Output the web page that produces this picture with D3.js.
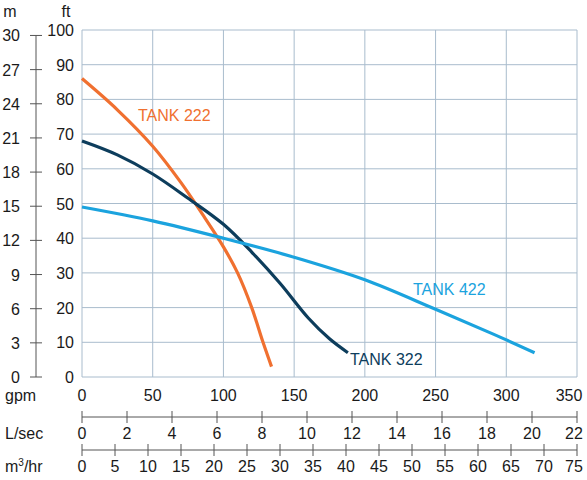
<!DOCTYPE html>
<html><head><meta charset="utf-8">
<script src="https://cdn.jsdelivr.net/npm/d3@7"></script>
<style>body{margin:0;background:#fff}text{font-family:"Liberation Sans",Arial,sans-serif;fill:#1a1a1a}</style>
</head><body><svg id="c" width="587" height="480"></svg>
<script>
const gpmTicks=[0,50,100,150,200,250,300,350];
const lsecTicks=[0,2,4,6,8,10,12,14,16,18,20,22];
const m3Ticks=[0,5,10,15,20,25,30,35,40,45,50,55,60,65,70,75];
const ftTicks=[0,10,20,30,40,50,60,70,80,90,100];
const mTicks=[0,3,6,9,12,15,18,21,24,27,30];
const tank222=[[0,86],[25,77],[50,66.5],[70,56],[85,47],[100,37.5],[110,30],[120,20],[128,10],[134,3]];
const tank322=[[0,68],[25,64],[50,58.5],[75,51.5],[100,44],[120,36],[140,27],[160,17],[175,11],[188,7]];
const tank422=[[0,49],[50,45],[100,40],[150,34.5],[200,28],[250,19.5],[290,12.5],[320,7]];
const series=[
 {name:"TANK 222",data:tank222,color:"#f07030",lx:138,ly:121},
 {name:"TANK 322",data:tank322,color:"#0d3d5c",lx:350,ly:365},
 {name:"TANK 422",data:tank422,color:"#1ba3de",lx:413,ly:295}];
const svg=d3.select("#c");
const L=82,R=577,T=30,B=377;
const x=d3.scaleLinear().domain([0,350]).range([L,R]);
const y=d3.scaleLinear().domain([0,100]).range([B,T]);
const grid="#a9bccd";
gpmTicks.forEach(v=>svg.append("line").attr("x1",x(v)).attr("x2",x(v)).attr("y1",T).attr("y2",B).attr("stroke",grid));
ftTicks.forEach(v=>svg.append("line").attr("x1",L).attr("x2",R).attr("y1",y(v)).attr("y2",y(v)).attr("stroke",grid));
ftTicks.forEach(v=>svg.append("text").attr("x",L-8).attr("y",y(v)+6).attr("text-anchor","end").attr("font-size",16).text(v));
svg.append("text").attr("x",66).attr("y",17).attr("text-anchor","middle").attr("font-size",16).text("ft");
const ym=d3.scaleLinear().domain([0,100*0.3048]).range([B,T]);
svg.append("line").attr("x1",36).attr("x2",36).attr("y1",ym(30)).attr("y2",B).attr("stroke","#555");
mTicks.forEach(v=>{svg.append("line").attr("x1",30).attr("x2",42).attr("y1",ym(v)).attr("y2",ym(v)).attr("stroke","#555");
 svg.append("text").attr("x",20).attr("y",ym(v)+6).attr("text-anchor","end").attr("font-size",16).text(v);});
svg.append("text").attr("x",10).attr("y",17).attr("text-anchor","middle").attr("font-size",16).text("m");
const line=d3.line().x(d=>x(d[0])).y(d=>y(d[1])).curve(d3.curveCatmullRom);
series.forEach(s=>{svg.append("path").attr("d",line(s.data)).attr("fill","none").attr("stroke",s.color).attr("stroke-width",3.2);
 svg.append("text").attr("x",s.lx).attr("y",s.ly).attr("font-size",16).style("fill",s.color).text(s.name);});
gpmTicks.forEach(v=>svg.append("text").attr("x",Math.min(x(v),569)).attr("y",401).attr("text-anchor","middle").attr("font-size",16).text(v));
svg.append("text").attr("x",5).attr("y",401).attr("font-size",16).text("gpm");
function bAxis(ticks,max,yl){
 const s=d3.scaleLinear().domain([0,max]).range([L,R]);
 svg.append("line").attr("x1",L).attr("x2",R).attr("y1",yl).attr("y2",yl).attr("stroke","#555");
 ticks.forEach(v=>{svg.append("line").attr("x1",s(v)).attr("x2",s(v)).attr("y1",yl-6).attr("y2",yl+6).attr("stroke","#555");
  svg.append("text").attr("x",Math.min(s(v),574)).attr("y",yl+22).attr("text-anchor","middle").attr("font-size",16).text(v);});
 return svg.append("text").attr("x",5).attr("y",yl+22).attr("font-size",16);
}
bAxis(lsecTicks,22,417).text("L/sec");
const t=bAxis(m3Ticks,75,450);
t.append("tspan").text("m");t.append("tspan").attr("font-size",10).attr("dy",-6).text("3");t.append("tspan").attr("dy",6).text("/hr");
</script></body></html>
